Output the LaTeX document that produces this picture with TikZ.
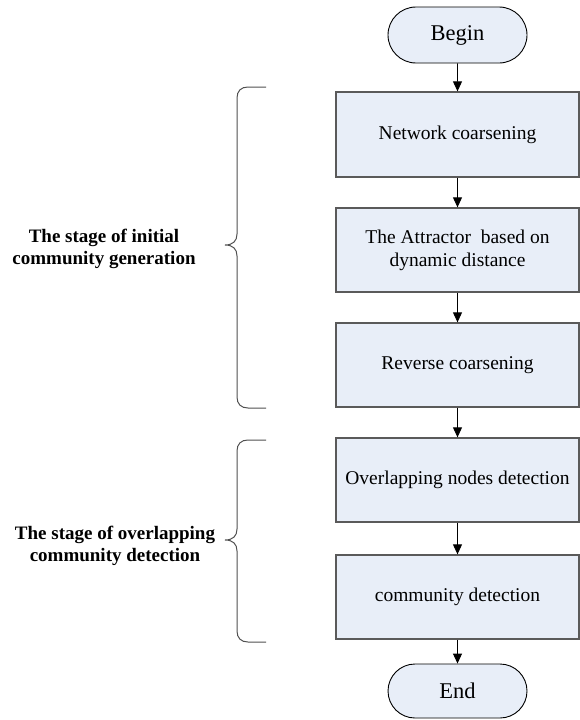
\documentclass[tikz,border=0pt]{standalone}
\usepackage{fontspec}
\setmainfont{Liberation Serif}
\usetikzlibrary{shapes.misc,arrows.meta}
\definecolor{boxfill}{RGB}{232,238,248}
\definecolor{boxline}{RGB}{90,90,90}
\definecolor{bracecol}{RGB}{80,80,80}
\begin{document}
\begin{tikzpicture}[x=1pt,y=-1pt,
  stepbox/.style={draw=boxline,line width=1.3pt,fill=boxfill,minimum width=243pt,minimum height=84pt,inner sep=0pt,align=center,font=\fontsize{19.5}{23}\selectfont},
  term/.style={draw=black,line width=0.9pt,fill=boxfill,rounded rectangle,minimum width=139pt,minimum height=56pt,inner sep=0pt,font=\fontsize{22.5}{26}\selectfont},
  flow/.style={draw=black,line width=0.9pt,-{Triangle[length=10pt,width=9pt]}},
  bracestyle/.style={draw=bracecol,line width=1pt},
  stage/.style={align=center,font=\bfseries\fontsize{19}{22.5}\selectfont}]
\useasboundingbox (0,0) rectangle (579,720);
\node[term] (begin) at (457.5,35) {Begin};
\node[stepbox,minimum height=85pt] (b1) at (457.5,134.5) {Network coarsening};
\node[stepbox] (b2) at (457.5,250) {The Attractor\ \ based on\\dynamic distance};
\node[stepbox] (b3) at (457.5,365) {Reverse coarsening};
\node[stepbox] (b4) at (457.5,480) {Overlapping nodes detection};
\node[stepbox] (b5) at (457.5,597) {community detection};
\node[term,minimum height=54pt] (end) at (457.5,691) {End};
\draw[flow] (begin) -- (b1);
\draw[flow] (b1) -- (b2);
\draw[flow] (b2) -- (b3);
\draw[flow] (b3) -- (b4);
\draw[flow] (b4) -- (b5);
\draw[flow] (b5) -- (end);
% braces
\draw[bracestyle] (266,87) -- (248,87) .. controls (241,87) and (237,91) .. (237,98) -- (237,234) .. controls (237,241) and (233,245) .. (225,245) .. controls (233,245) and (237,249) .. (237,256) -- (237,397) .. controls (237,404) and (241,408) .. (248,408) -- (266,408);
\draw[bracestyle] (266,440) -- (248,440) .. controls (241,440) and (237,444) .. (237,451) -- (237,529) .. controls (237,536) and (233,540) .. (225,540) .. controls (233,540) and (237,544) .. (237,551) -- (237,631) .. controls (237,638) and (241,642) .. (248,642) -- (266,642);
\node[stage] (s1) at (104,249) {The stage of initial\\community generation};
\node[stage] (s2) at (115,546) {The stage of overlapping\\community detection};
\end{tikzpicture}
\end{document}
